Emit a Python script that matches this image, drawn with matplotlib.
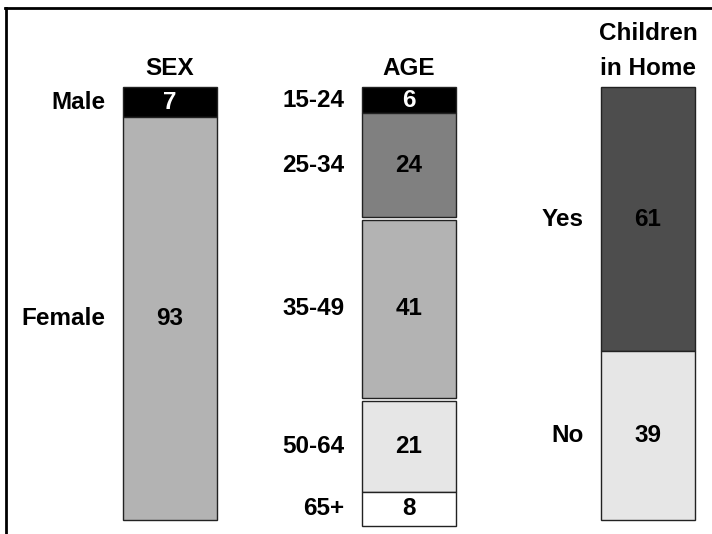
import matplotlib
matplotlib.use("Agg")
import matplotlib.pyplot as plt
from matplotlib.lines import Line2D

plt.rcParams['font.family'] = ['Liberation Sans', 'DejaVu Sans']

# Panel titles
titles = ["SEX", "AGE", "Children\nin Home"]

# Segments of each stacked column (top to bottom)
sex_labels = ["Male", "Female"]
sex_values = [7, 93]
sex_colors = ["#000000", "#b3b3b3"]

age_labels = ["15-24", "25-34", "35-49", "50-64", "65+"]
age_values = [6, 24, 41, 21, 8]
age_colors = ["#000000", "#808080", "#b3b3b3", "#e6e6e6", "#ffffff"]

kids_labels = ["Yes", "No"]
kids_values = [61, 39]
kids_colors = ["#4d4d4d", "#e6e6e6"]

# (labels, values, colours, indices after which a small gap is left)
groups = [
    (sex_labels, sex_values, sex_colors, ()),
    (age_labels, age_values, age_colors, (1, 2)),
    (kids_labels, kids_values, kids_colors, ()),
]

fig = plt.figure(figsize=(7.12, 5.34), dpi=100)
ax = fig.add_axes([0, 0, 1, 1])
ax.set_xlim(-0.711, 2.268)
ax.set_ylim(103.2, -20.1)
ax.axis("off")

width = 0.39
gap = 0.7
fs = 17.5
for i, (labels, values, colors, gaps_after) in enumerate(groups):
    bottom = 0.0
    for j, (lab, val, col) in enumerate(zip(labels, values, colors)):
        ax.bar(i, val, bottom=bottom, width=width, color=col,
               edgecolor="#222222", linewidth=1.0, align="center")
        mid = bottom + val / 2
        txt_col = "white" if col == "#000000" else "black"
        ax.text(i, mid, str(val), ha="center", va="center", fontsize=fs,
                fontweight="bold", color=txt_col)
        ax.text(i - width / 2 - 0.075, mid, lab, ha="right", va="center",
                fontsize=fs, fontweight="bold", color="black")
        bottom += val + (gap if j in gaps_after else 0)
    ax.text(i, -2.8, titles[i], ha="center", va="baseline", fontsize=fs,
            fontweight="bold", linespacing=1.65)

# Frame lines along the top and left edges
fig.add_artist(Line2D([0.007, 1.0], [0.985, 0.985], color="black", lw=2,
                      transform=fig.transFigure))
fig.add_artist(Line2D([0.008, 0.008], [0.0, 0.985], color="black", lw=2,
                      transform=fig.transFigure))

fig.savefig("out.png", dpi=100)
